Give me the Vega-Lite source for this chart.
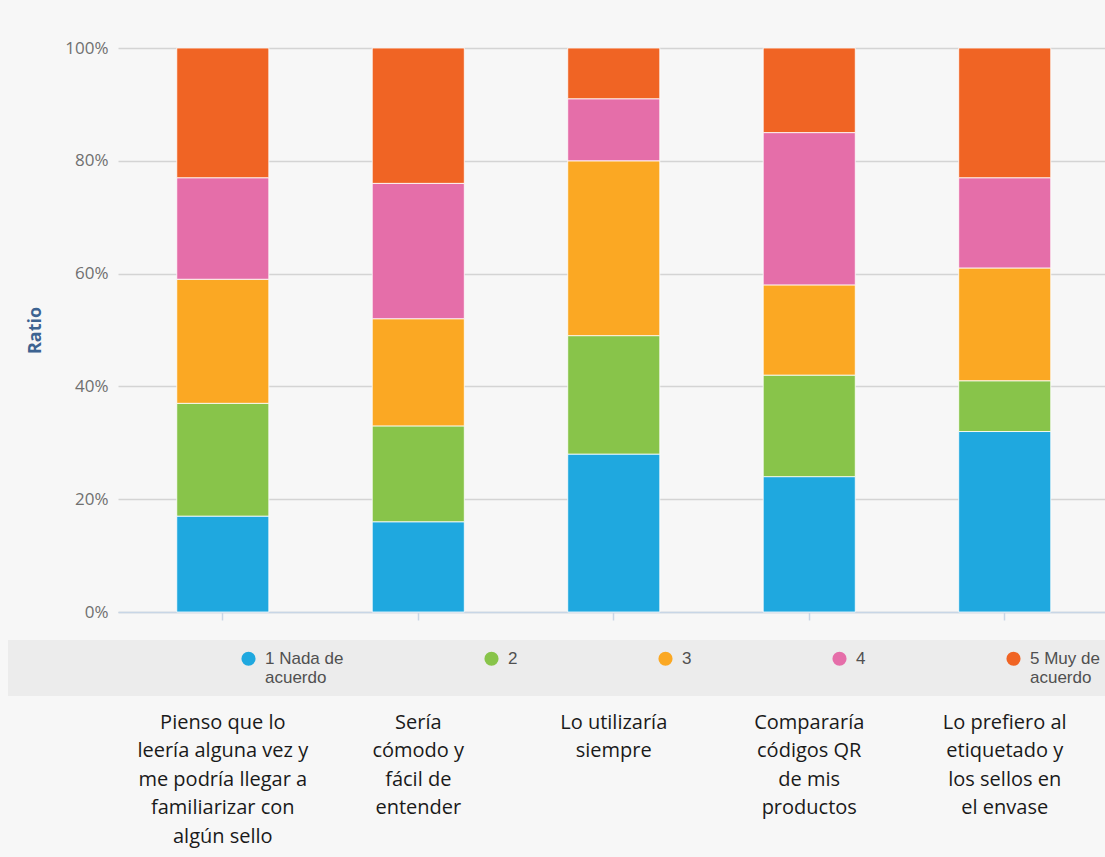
{
  "$schema": "https://vega.github.io/schema/vega-lite/v6.json",
  "width": 987,
  "height": 564,
  "autosize": {"type": "none"},
  "padding": {"left": 118, "top": 48, "right": 0, "bottom": 245},
  "background": "#f7f7f7",
  "data": {
    "values": [
      {"pregunta": "Pienso que lo leería alguna vez y me podría llegar a familiarizar con algún sello", "respuesta": "1 Nada de acuerdo", "valor": 17},
      {"pregunta": "Pienso que lo leería alguna vez y me podría llegar a familiarizar con algún sello", "respuesta": "2", "valor": 20},
      {"pregunta": "Pienso que lo leería alguna vez y me podría llegar a familiarizar con algún sello", "respuesta": "3", "valor": 22},
      {"pregunta": "Pienso que lo leería alguna vez y me podría llegar a familiarizar con algún sello", "respuesta": "4", "valor": 18},
      {"pregunta": "Pienso que lo leería alguna vez y me podría llegar a familiarizar con algún sello", "respuesta": "5 Muy de acuerdo", "valor": 23},
      {"pregunta": "Sería cómodo y fácil de entender", "respuesta": "1 Nada de acuerdo", "valor": 16},
      {"pregunta": "Sería cómodo y fácil de entender", "respuesta": "2", "valor": 17},
      {"pregunta": "Sería cómodo y fácil de entender", "respuesta": "3", "valor": 19},
      {"pregunta": "Sería cómodo y fácil de entender", "respuesta": "4", "valor": 24},
      {"pregunta": "Sería cómodo y fácil de entender", "respuesta": "5 Muy de acuerdo", "valor": 24},
      {"pregunta": "Lo utilizaría siempre", "respuesta": "1 Nada de acuerdo", "valor": 28},
      {"pregunta": "Lo utilizaría siempre", "respuesta": "2", "valor": 21},
      {"pregunta": "Lo utilizaría siempre", "respuesta": "3", "valor": 31},
      {"pregunta": "Lo utilizaría siempre", "respuesta": "4", "valor": 11},
      {"pregunta": "Lo utilizaría siempre", "respuesta": "5 Muy de acuerdo", "valor": 9},
      {"pregunta": "Compararía códigos QR de mis productos", "respuesta": "1 Nada de acuerdo", "valor": 24},
      {"pregunta": "Compararía códigos QR de mis productos", "respuesta": "2", "valor": 18},
      {"pregunta": "Compararía códigos QR de mis productos", "respuesta": "3", "valor": 16},
      {"pregunta": "Compararía códigos QR de mis productos", "respuesta": "4", "valor": 27},
      {"pregunta": "Compararía códigos QR de mis productos", "respuesta": "5 Muy de acuerdo", "valor": 15},
      {"pregunta": "Lo prefiero al etiquetado y los sellos en el envase", "respuesta": "1 Nada de acuerdo", "valor": 32},
      {"pregunta": "Lo prefiero al etiquetado y los sellos en el envase", "respuesta": "2", "valor": 9},
      {"pregunta": "Lo prefiero al etiquetado y los sellos en el envase", "respuesta": "3", "valor": 20},
      {"pregunta": "Lo prefiero al etiquetado y los sellos en el envase", "respuesta": "4", "valor": 16},
      {"pregunta": "Lo prefiero al etiquetado y los sellos en el envase", "respuesta": "5 Muy de acuerdo", "valor": 23}
    ]
  },
  "mark": {"type": "bar", "stroke": "#ffffff", "strokeWidth": 1, "strokeOpacity": 0.8},
  "encoding": {
    "x": {
      "field": "pregunta",
      "type": "nominal",
      "sort": null,
      "scale": {"paddingInner": 0.529, "paddingOuter": 0.289, "align": 0.52},
      "axis": {
        "title": null,
        "labelAngle": 0,
        "labelExpr": "datum.value == 'Pienso que lo leería alguna vez y me podría llegar a familiarizar con algún sello' ? ['Pienso que lo', 'leería alguna vez y', 'me podría llegar a', 'familiarizar con', 'algún sello'] : datum.value == 'Sería cómodo y fácil de entender' ? ['Sería', 'cómodo y', 'fácil de', 'entender'] : datum.value == 'Lo utilizaría siempre' ? ['Lo utilizaría', 'siempre'] : datum.value == 'Compararía códigos QR de mis productos' ? ['Compararía', 'códigos QR', 'de mis', 'productos'] : ['Lo prefiero al', 'etiquetado y', 'los sellos en', 'el envase']",
        "labelFont": "Open Sans",
        "labelFontSize": 20,
        "labelColor": "#1a1a1a",
        "labelLineHeight": 28.5,
        "labelPadding": 92,
        "labelLimit": 400,
        "domainColor": "#c8d6e6",
        "domainWidth": 1.5,
        "tickColor": "#c8d6e6",
        "tickSize": 8,
        "tickWidth": 1.5,
        "grid": false
      }
    },
    "y": {
      "field": "valor",
      "type": "quantitative",
      "stack": "normalize",
      "scale": {"domain": [0, 1]},
      "axis": {
        "title": "Ratio",
        "format": ".0%",
        "values": [0, 0.2, 0.4, 0.6, 0.8, 1],
        "domain": false,
        "ticks": false,
        "tickSize": 0,
        "labelPadding": 10,
        "labelFont": "Open Sans",
        "labelFontSize": 17,
        "labelColor": "#707070",
        "gridColor": "#d4d4d4",
        "gridWidth": 1.5,
        "titleFont": "Open Sans",
        "titleFontSize": 18,
        "titleFontWeight": "bold",
        "titleColor": "#3d6391",
        "titlePadding": 20
      }
    },
    "color": {
      "field": "respuesta",
      "type": "nominal",
      "scale": {
        "domain": ["1 Nada de acuerdo", "2", "3", "4", "5 Muy de acuerdo"],
        "range": ["#1fa8df", "#88c44a", "#fba823", "#e56ea9", "#f06424"]
      },
      "legend": {
        "title": " ",
        "titleOrient": "left",
        "titleFontSize": 10,
        "titlePadding": 83,
        "orient": "none",
        "legendX": -110,
        "legendY": 592,
        "direction": "horizontal",
        "columns": 5,
        "gridAlign": "each",
        "fillColor": "#ececec",
        "padding": 10,
        "symbolType": "circle",
        "symbolSize": 200,
        "symbolStrokeWidth": 0,
        "symbolOffset": 139,
        "labelOffset": 8,
        "columnPadding": 0,
        "labelFont": "Liberation Sans",
        "labelFontSize": 17,
        "labelColor": "#505050",
        "labelLimit": 200,
        "labelExpr": "indexof(datum.label, ' acuerdo') >= 0 ? split(replace(datum.label, ' acuerdo', '|acuerdo'), '|') : [datum.label, '']"
      }
    },
    "order": {"field": "respuesta", "sort": "ascending"}
  },
  "config": {"view": {"stroke": null}}
}
